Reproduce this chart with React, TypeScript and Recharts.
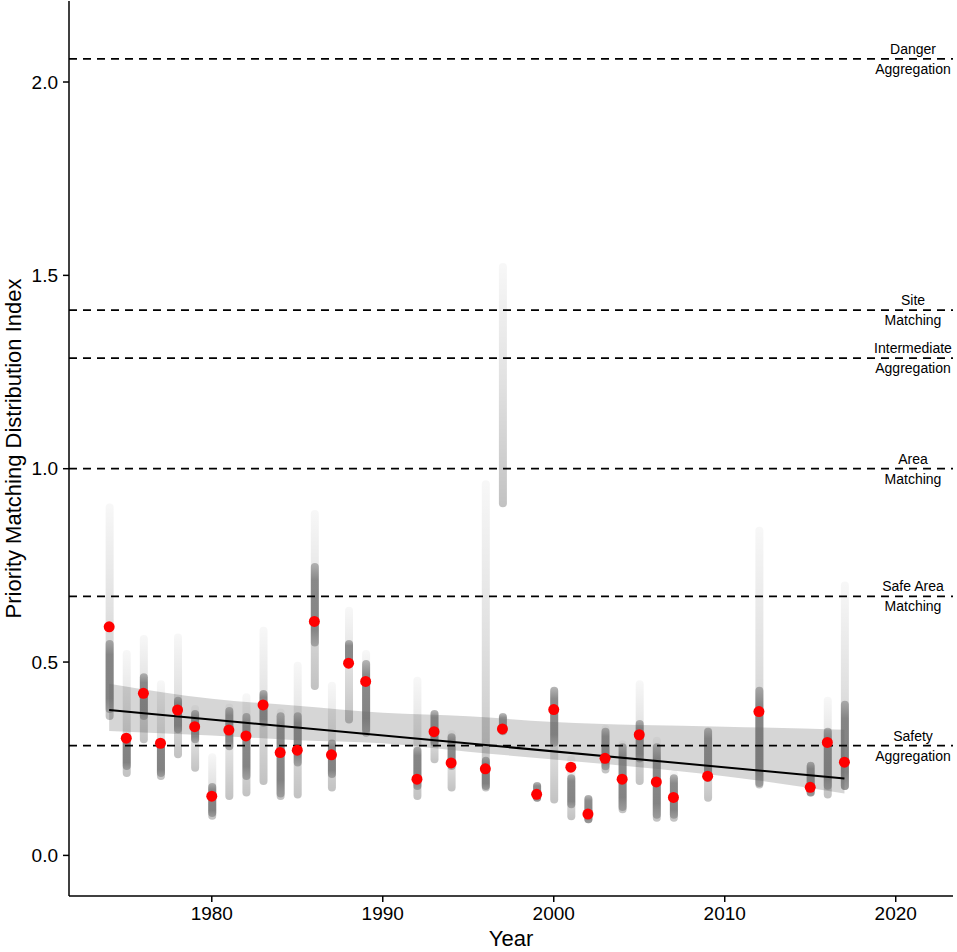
import React from 'react';
import {
  ComposedChart,
  Bar,
  Area,
  Line,
  Scatter,
  XAxis,
  YAxis,
  ReferenceLine,
} from 'recharts';

// years that have simulations
const years = [
  1974, 1975, 1976, 1977, 1978, 1979, 1980, 1981, 1982, 1983, 1984, 1985, 1986, 1987, 1988, 1989,
  1992, 1993, 1994, 1996, 1997, 1999, 2000, 2001, 2002, 2003, 2004, 2005, 2006, 2007, 2009, 2012,
  2015, 2016, 2017,
];
// observed index per year (red points)
const observed = [
  0.591, 0.303, 0.419, 0.29, 0.376, 0.333, 0.153, 0.324, 0.309, 0.389, 0.266, 0.272, 0.605, 0.26,
  0.497, 0.45, 0.197, 0.32, 0.239, 0.224, 0.327, 0.158, 0.377, 0.228, 0.107, 0.251, 0.197, 0.312,
  0.19, 0.15, 0.205, 0.372, 0.176, 0.292, 0.241,
];
// full spread of the simulated values (faint grey streaks)
const spreadLow = [
  0.35, 0.203, 0.29, 0.195, 0.251, 0.216, 0.092, 0.143, 0.152, 0.182, 0.143, 0.147, 0.428, 0.165,
  0.341, 0.307, 0.143, 0.238, 0.165, 0.165, 0.9, 0.139, 0.134, 0.091, 0.083, 0.212, 0.109, 0.182,
  0.087, 0.087, 0.139, 0.173, 0.152, 0.147, 0.169,
];
const spreadHigh = [
  0.91, 0.531, 0.57, 0.453, 0.574, 0.389, 0.264, 0.393, 0.419, 0.591, 0.38, 0.501, 0.893, 0.449,
  0.643, 0.531, 0.462, 0.376, 0.324, 0.97, 1.532, 0.19, 0.436, 0.259, 0.156, 0.337, 0.298, 0.453,
  0.307, 0.221, 0.333, 0.85, 0.242, 0.41, 0.708,
];
// where the simulated values are dense (dark grey core)
const denseLow = [
  0.368, 0.221, 0.35, 0.203, 0.316, 0.29, 0.099, 0.272, 0.195, 0.333, 0.15, 0.23, 0.54, 0.2,
  0.484, 0.316, 0.169, 0.281, 0.221, 0.169, 0.311, 0.139, 0.281, 0.122, 0.083, 0.22, 0.115, 0.24,
  0.095, 0.095, 0.19, 0.177, 0.152, 0.17, 0.169,
];
const denseHigh = [
  0.557, 0.316, 0.471, 0.298, 0.41, 0.376, 0.187, 0.384, 0.368, 0.428, 0.37, 0.37, 0.756, 0.3,
  0.557, 0.505, 0.281, 0.376, 0.316, 0.255, 0.368, 0.19, 0.436, 0.21, 0.156, 0.33, 0.29, 0.35,
  0.29, 0.21, 0.33, 0.436, 0.242, 0.33, 0.4,
];

// linear fit and its confidence band
const fitYears = [1974, 2017];
const fitValues = [0.376, 0.199];
const bandYears = [1974, 1980, 1985, 1990, 1995, 2000, 2005, 2010, 2017];
const bandLow = [0.322, 0.31, 0.298, 0.29, 0.268, 0.248, 0.228, 0.205, 0.16];
const bandHigh = [0.444, 0.405, 0.387, 0.369, 0.36, 0.345, 0.337, 0.333, 0.325];

// reference thresholds
const thresholdValues = [2.06, 1.41, 1.286, 1.0, 0.67, 0.284];
const thresholdTop = ['Danger', 'Site', 'Intermediate', 'Area', 'Safe Area', 'Safety'];
const thresholdBottom = ['Aggregation', 'Matching', 'Aggregation', 'Matching', 'Matching', 'Aggregation'];

const xTicks = [1980, 1990, 2000, 2010, 2020];
const yTicks = [0, 0.5, 1, 1.5, 2];

const rows = years.map((year, i) => ({
  year,
  spread: [spreadLow[i], spreadHigh[i]],
  dense: [denseLow[i], denseHigh[i]],
  observed: observed[i],
}));
const bandRows = bandYears.map((year, i) => ({ year, band: [bandLow[i], bandHigh[i]] }));
const fitRows = fitYears.map((year, i) => ({ year, fit: fitValues[i] }));

const FONT = '"Liberation Sans", Arial, Helvetica, sans-serif';
const X_DOMAIN: [number, number] = [1971.65, 2023.35];

const ThresholdLabel = (props: any) => {
  const { viewBox, top, bottom } = props;
  const cx = viewBox.x + viewBox.width - 40;
  return (
    <g fontFamily={FONT} fontSize={14} fill="#000">
      <text x={cx} y={viewBox.y - 5} textAnchor="middle">{top}</text>
      <text x={cx} y={viewBox.y + 15} textAnchor="middle">{bottom}</text>
    </g>
  );
};

const YTitle = (props: any) => {
  const { viewBox } = props;
  const cy = viewBox.y + viewBox.height / 2;
  return (
    <text
      x={21}
      y={cy}
      transform={`rotate(-90, 21, ${cy})`}
      textAnchor="middle"
      fontFamily={FONT}
      fontSize={22}
      fill="#000"
    >
      Priority Matching Distribution Index
    </text>
  );
};

const RedDot = (props: any) => <circle cx={props.cx} cy={props.cy} r={5.5} fill="#ff0000" />;

export default function App() {
  const tick = { fontSize: 19, fill: '#000', fontFamily: FONT };
  return (
    <div style={{ position: 'absolute', left: 0, top: 0, background: '#fff' }}>
      <ComposedChart
        width={957}
        height={952}
        data={rows}
        margin={{ top: 1, right: 4, left: 0, bottom: 0 }}
      >
        <defs>
          <linearGradient id="spreadFill" x1="0" y1="0" x2="0" y2="1">
            <stop offset="0%" stopColor="#000" stopOpacity={0.03} />
            <stop offset="50%" stopColor="#000" stopOpacity={0.12} />
            <stop offset="100%" stopColor="#000" stopOpacity={0.24} />
          </linearGradient>
          <linearGradient id="denseFill" x1="0" y1="0" x2="0" y2="1">
            <stop offset="0%" stopColor="#6a6a6a" stopOpacity={0.45} />
            <stop offset="20%" stopColor="#6a6a6a" stopOpacity={0.75} />
            <stop offset="80%" stopColor="#6a6a6a" stopOpacity={0.75} />
            <stop offset="100%" stopColor="#6a6a6a" stopOpacity={0.45} />
          </linearGradient>
        </defs>
        <XAxis
          dataKey="year"
          type="number"
          domain={X_DOMAIN}
          allowDataOverflow
          ticks={xTicks}
          tick={tick}
          tickSize={6}
          tickMargin={5}
          height={56}
          axisLine={{ stroke: '#000', strokeWidth: 1.5 }}
          tickLine={{ stroke: '#000', strokeWidth: 1.5 }}
          label={{ value: 'Year', position: 'insideBottom', offset: 6, fontSize: 22, fill: '#000', fontFamily: FONT }}
        />
        <XAxis xAxisId="dense" dataKey="year" type="number" domain={X_DOMAIN} allowDataOverflow hide />
        <YAxis
          type="number"
          domain={[-0.105, 2.2095]}
          allowDataOverflow
          ticks={yTicks}
          tickFormatter={(v: number) => v.toFixed(1)}
          tick={tick}
          tickSize={6}
          tickMargin={5}
          width={69}
          axisLine={{ stroke: '#000', strokeWidth: 1.5 }}
          tickLine={{ stroke: '#000', strokeWidth: 1.5 }}
          label={<YTitle />}
        />
        <Bar dataKey="spread" barSize={8} radius={4} fill="url(#spreadFill)" isAnimationActive={false} />
        <Bar
          xAxisId="dense"
          dataKey="dense"
          barSize={8}
          radius={4}
          fill="url(#denseFill)"
          isAnimationActive={false}
        />
        <Area
          data={bandRows}
          dataKey="band"
          type="monotone"
          stroke="none"
          fill="#999999"
          fillOpacity={0.4}
          isAnimationActive={false}
        />
        <Line
          data={fitRows}
          dataKey="fit"
          type="linear"
          stroke="#000"
          strokeWidth={2}
          dot={false}
          isAnimationActive={false}
        />
        {thresholdValues.map((v, i) => (
          <ReferenceLine
            key={v}
            y={v}
            stroke="#000"
            strokeWidth={1.8}
            strokeDasharray="8 6"
            label={<ThresholdLabel top={thresholdTop[i]} bottom={thresholdBottom[i]} />}
          />
        ))}
        <Scatter dataKey="observed" shape={<RedDot />} isAnimationActive={false} />
      </ComposedChart>
    </div>
  );
}
